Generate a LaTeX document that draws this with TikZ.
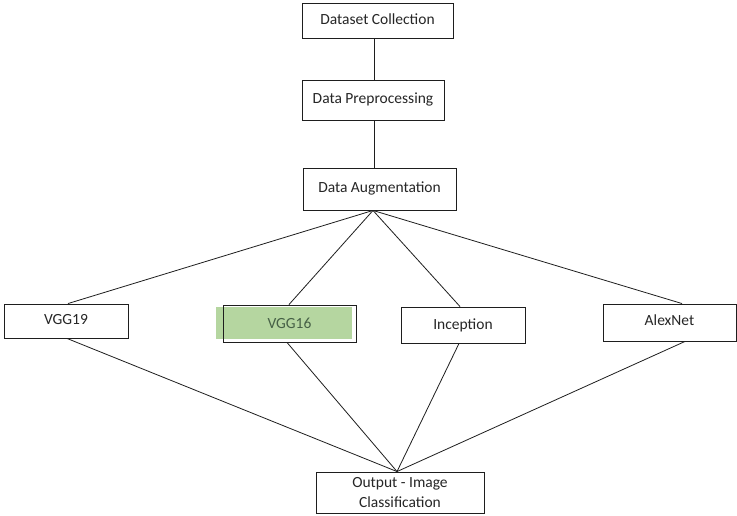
\documentclass[tikz,border=0pt]{standalone}
\usepackage{fontspec}
\setmainfont{Carlito}
\definecolor{hlgreen}{RGB}{181,214,160}
\definecolor{hltext}{RGB}{70,96,70}
\definecolor{edge}{RGB}{30,30,30}
\tikzset{
  box/.style={draw=edge, line width=0.9pt, fill=none, inner sep=2pt,
              font=\fontsize{15.5}{20}\selectfont, align=center, text=black!85},
  link/.style={draw=edge, line width=0.8pt}
}
\begin{document}
\begin{tikzpicture}[x=1pt,y=-1pt]
  \useasboundingbox (0,0) rectangle (737,516);
  \fill[white] (0,0) rectangle (737,516);

  % pipeline stages
  \node[box, minimum width=151pt, minimum height=35pt] (dc) at (377.5,20.5) {\raisebox{3pt}{Dataset Collection}};
  \node[box, minimum width=142pt, minimum height=40pt] (dp) at (373,100) {\raisebox{3pt}{Data Preprocessing}};
  \node[box, minimum width=153pt, minimum height=42pt] (da) at (379.5,189) {\raisebox{3pt}{Data Augmentation}};

  % highlighted model
  \node[fill=hlgreen, minimum width=136pt, minimum height=32pt, inner sep=0pt] (hl) at (284,323) {};

  % models
  \node[box, minimum width=124pt, minimum height=34pt] (v19) at (66,321) {\raisebox{3pt}{VGG19}};
  \node[box, minimum width=133pt, minimum height=37pt, text=hltext] (v16) at (289.5,323.5) {VGG16};
  \node[box, minimum width=124pt, minimum height=36pt] (inc) at (463,325) {\raisebox{-4pt}{Inception}};
  \node[box, minimum width=133pt, minimum height=37pt] (alex) at (669.5,322.5) {\raisebox{5pt}{AlexNet}};

  % result
  \node[box, minimum width=168pt, minimum height=41pt, inner sep=0pt] (out) at (400,492.5) {Output - Image\\Classification};

  % attachment points along the borders
  \coordinate (spine) at (374,0);
  \coordinate (fanx) at (373,0);
  \coordinate (t19) at (68,0);   \coordinate (b19) at (67,0);
  \coordinate (t16) at (289,0);  \coordinate (b16) at (287,0);
  \coordinate (tin) at (460,0);  \coordinate (bin) at (459,0);
  \coordinate (tax) at (682,0);  \coordinate (bax) at (685,0);
  \coordinate (inx) at (397,0);

  \coordinate (fan) at (da.south -| fanx);
  \coordinate (sink) at (out.north -| inx);

  % pipeline links
  \draw[link] (dc.south -| spine) -- (dp.north -| spine);
  \draw[link] (dp.south -| spine) -- (da.north -| spine);

  % fan out to the models
  \draw[link] (fan) -- (v19.north -| t19);
  \draw[link] (fan) -- (v16.north -| t16);
  \draw[link] (fan) -- (inc.north -| tin);
  \draw[link] (fan) -- (alex.north -| tax);

  % fan in to the output
  \draw[link] (v19.south -| b19) -- (sink);
  \draw[link] (v16.south -| b16) -- (sink);
  \draw[link] (inc.south -| bin) -- (sink);
  \draw[link] (alex.south -| bax) -- (sink);
\end{tikzpicture}
\end{document}
